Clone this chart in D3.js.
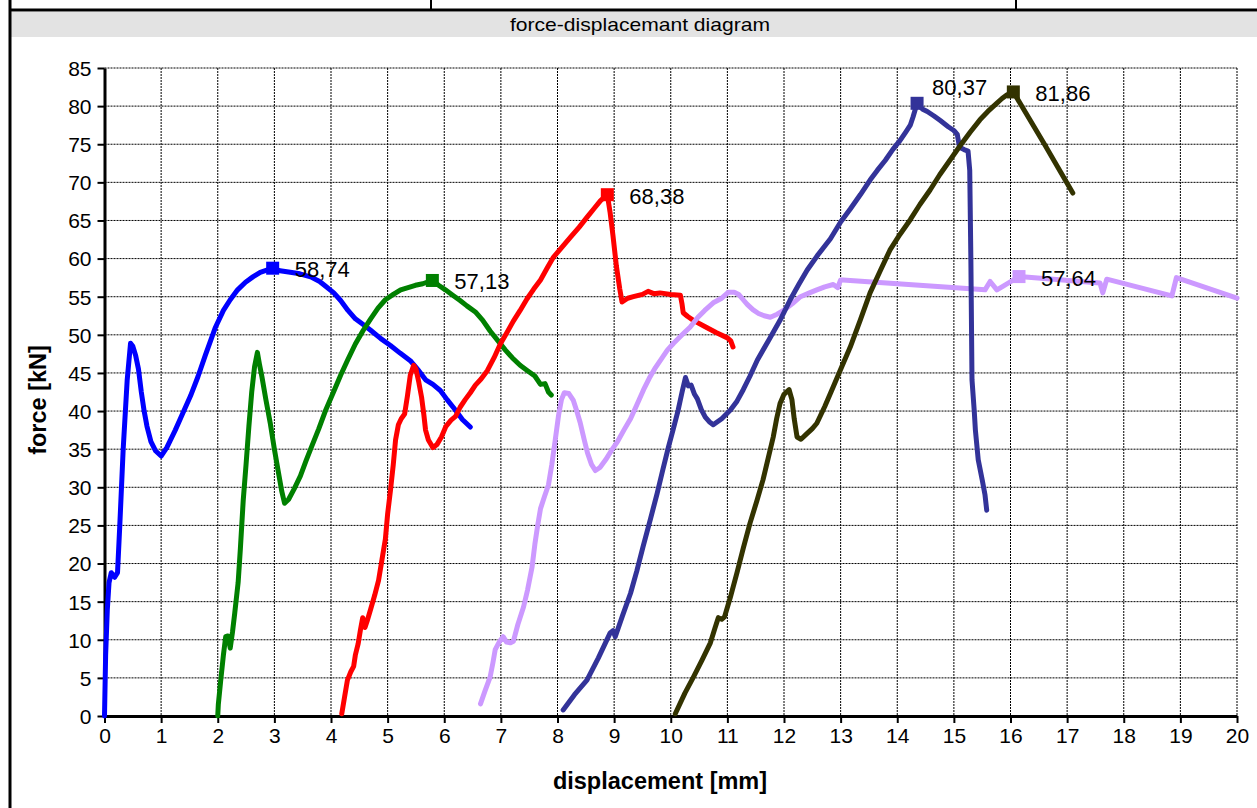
<!DOCTYPE html>
<html>
<head>
<meta charset="utf-8">
<script src="https://cdn.jsdelivr.net/npm/d3@7"></script>
<style>
  html, body { margin: 0; padding: 0; background: #fff; }
  svg { display: block; font-family: "Liberation Sans", Arial, sans-serif; }
</style>
</head>
<body>
<svg id="chart" width="1257" height="808"></svg>
<script>
// Axis ticks
const xTicks = d3.range(0, 21, 1);
const yTicks = d3.range(0, 86, 5);

// Force–displacement curves, [displacement mm, force kN]
const specimen1 = [[0,0],[0.02,8],[0.05,14],[0.08,17.5],[0.12,18.8],[0.18,18.2],[0.23,18.8],[0.27,25],[0.33,35],[0.4,44],[0.46,48.9],[0.5,48.5],[0.55,47.3],[0.6,45.5],[0.65,42.5],[0.7,40],[0.75,38],[0.82,36],[0.9,34.8],[1.0,34.1],[1.1,35.2],[1.25,37.5],[1.4,40],[1.52,42],[1.65,44.5],[1.78,47.3],[1.96,51],[2.1,53.2],[2.22,54.6],[2.35,55.9],[2.49,56.9],[2.62,57.6],[2.75,58.2],[2.97,58.74],[3.1,58.4],[3.28,58.2],[3.45,58],[3.64,57.6],[3.8,57],[3.9,56.4],[4.05,55.5],[4.17,54.5],[4.3,53.2],[4.43,52.1],[4.58,51.3],[4.7,50.6],[4.88,49.5],[5.05,48.6],[5.22,47.6],[5.4,46.6],[5.55,45.3],[5.67,44.1],[5.8,43.5],[5.93,42.7],[6.05,41.5],[6.2,40.1],[6.32,38.9],[6.46,37.9]];

const specimen2 = [[2.0,0],[2.01,1.5],[2.05,4.5],[2.1,8],[2.14,10.4],[2.18,10.5],[2.22,8.9],[2.26,11],[2.3,13.5],[2.36,17.5],[2.4,22],[2.45,28.3],[2.5,33],[2.55,38],[2.6,42.5],[2.65,45.8],[2.7,47.7],[2.74,46],[2.78,44.5],[2.85,41.5],[2.93,38.3],[3.0,35],[3.07,32],[3.13,29.5],[3.18,27.9],[3.25,28.4],[3.35,29.8],[3.46,31.5],[3.56,33.5],[3.64,35],[3.78,37.6],[3.9,40],[4.05,42.6],[4.17,44.7],[4.3,46.8],[4.43,48.8],[4.57,50.6],[4.7,52.1],[4.83,53.5],[4.96,54.6],[5.1,55.3],[5.23,55.9],[5.36,56.2],[5.49,56.5],[5.62,56.7],[5.79,57.13],[5.9,56.5],[6.02,55.9],[6.15,55.2],[6.28,54.5],[6.4,53.8],[6.55,53],[6.68,51.9],[6.81,50.5],[6.95,49.2],[7.08,48],[7.2,47],[7.34,46],[7.47,45.3],[7.6,44.6],[7.7,43.5],[7.78,43.6],[7.84,42.5],[7.89,42.1]];

const specimen3 = [[4.19,0.3],[4.24,2.5],[4.29,4.7],[4.35,5.8],[4.4,6.5],[4.43,8],[4.48,9.5],[4.52,11.3],[4.56,12.9],[4.6,11.6],[4.64,12.5],[4.7,14],[4.77,15.8],[4.84,17.8],[4.9,20.5],[4.96,23.2],[5.0,26.5],[5.05,29.6],[5.1,33],[5.14,36.2],[5.19,38.2],[5.24,39],[5.3,39.6],[5.35,42],[5.4,44.7],[5.46,46],[5.5,45.5],[5.55,43.8],[5.6,41.8],[5.64,39.5],[5.67,37.5],[5.72,36.2],[5.8,35.2],[5.87,35.6],[5.95,36.6],[6.03,38],[6.12,38.8],[6.2,39.3],[6.28,40.5],[6.37,41.5],[6.46,42.4],[6.55,43.4],[6.65,44.2],[6.76,45.3],[6.88,47],[6.99,48.8],[7.1,50.2],[7.22,51.8],[7.34,53.2],[7.46,54.7],[7.58,56],[7.7,57.2],[7.82,58.8],[7.93,60.2],[8.08,61.5],[8.23,62.8],[8.38,64.1],[8.53,65.5],[8.65,66.6],[8.76,67.6],[8.88,68.38],[8.93,66],[8.98,63],[9.04,59],[9.1,56],[9.14,54.3],[9.24,54.8],[9.34,55],[9.5,55.3],[9.6,55.7],[9.7,55.4],[9.81,55.5],[10.0,55.3],[10.17,55.2],[10.2,54],[10.22,52.9],[10.3,52.4],[10.4,51.9],[10.6,51.1],[10.8,50.3],[11.0,49.6],[11.06,49.2],[11.1,48.4]];

const specimen4 = [[6.64,1.6],[6.72,3.3],[6.81,5.1],[6.86,7],[6.9,8.7],[6.97,9.7],[7.04,10.4],[7.1,9.7],[7.17,9.6],[7.22,9.8],[7.3,12],[7.4,14.3],[7.47,16.5],[7.55,19.5],[7.6,22.5],[7.65,25],[7.7,27.2],[7.77,28.8],[7.84,30.3],[7.9,33],[7.96,36.2],[8.02,39.5],[8.07,41.5],[8.12,42.4],[8.2,42.3],[8.28,41.4],[8.34,40],[8.4,38.5],[8.47,36.3],[8.53,34.5],[8.6,33],[8.67,32.2],[8.75,32.6],[8.85,33.6],[8.95,34.8],[9.06,36],[9.18,37.6],[9.29,39],[9.4,40.8],[9.52,42.8],[9.62,44.3],[9.73,45.7],[9.85,47],[9.94,48],[10.05,48.9],[10.2,50],[10.34,51],[10.48,52.3],[10.6,53.2],[10.75,54.2],[10.9,54.8],[11.02,55.6],[11.12,55.6],[11.2,55.3],[11.28,54.6],[11.35,54],[11.45,53.3],[11.55,52.8],[11.65,52.5],[11.76,52.3],[11.88,52.7],[11.99,53.2],[12.15,54.1],[12.29,55],[12.45,55.5],[12.58,55.9],[12.72,56.3],[12.87,56.6],[12.95,56.2],[13.0,57.2],[13.04,57.2],[15.55,55.9],[15.64,57.0],[15.76,55.9],[15.85,56.3],[16.15,57.64],[17.58,56.8],[17.63,55.5],[17.7,57.3],[18.85,55.1],[18.93,57.5],[20,54.8]];

const specimen5 = [[8.1,0.8],[8.3,2.8],[8.52,4.7],[8.72,7.6],[8.93,10.9],[8.98,11.2],[9.02,10.4],[9.15,13.2],[9.29,16.1],[9.4,19],[9.51,22.2],[9.64,25.8],[9.76,29.2],[9.86,32.3],[9.96,35.3],[10.05,37.8],[10.13,40.1],[10.2,42.5],[10.26,44.4],[10.31,43.3],[10.36,43.4],[10.42,42.2],[10.47,41.6],[10.54,40.2],[10.61,39.2],[10.68,38.6],[10.75,38.2],[10.9,39],[11.05,40.1],[11.17,41.3],[11.28,42.8],[11.4,44.6],[11.53,46.7],[11.73,49.3],[11.93,51.9],[12.11,54.6],[12.26,56.6],[12.41,58.5],[12.6,60.5],[12.82,62.6],[13.0,64.8],[13.17,66.5],[13.35,68.4],[13.52,70.3],[13.65,71.6],[13.79,72.9],[13.92,74.3],[14.05,75.5],[14.15,76.6],[14.23,77.5],[14.28,78.6],[14.35,80.37],[14.45,79.6],[14.53,79.3],[14.65,78.7],[14.76,78.1],[14.9,77.3],[15.0,76.8],[15.06,76.3],[15.1,74.6],[15.18,74.3],[15.25,74.1],[15.28,71.6],[15.3,60],[15.32,44.1],[15.36,40],[15.38,37.5],[15.43,33.6],[15.5,31],[15.55,29],[15.58,27]];

const specimen6 = [[10.08,0.3],[10.25,3],[10.4,5.1],[10.55,7.3],[10.7,9.6],[10.78,11.5],[10.84,12.9],[10.9,12.7],[10.95,13],[11.05,15.5],[11.17,18.8],[11.28,22],[11.4,25.3],[11.52,28.2],[11.63,31],[11.72,33.8],[11.81,36.6],[11.87,39],[11.93,41],[12.0,42.2],[12.09,42.8],[12.14,41.5],[12.18,39],[12.23,36.6],[12.3,36.3],[12.4,37],[12.5,37.7],[12.58,38.4],[12.72,40.6],[12.87,43.2],[13.02,45.8],[13.17,48.4],[13.35,52],[13.52,55.5],[13.7,58.4],[13.87,61.1],[14.05,63.2],[14.23,65.1],[14.4,67.1],[14.58,69],[14.75,71],[14.93,72.9],[15.1,74.7],[15.29,76.6],[15.46,78.2],[15.6,79.3],[15.76,80.4],[15.85,81],[15.94,81.5],[16.05,81.86],[16.6,75],[17.1,68.6]];

const curves = [specimen1, specimen2, specimen3, specimen4, specimen5, specimen6];
const colors = ["#0000ff", "#008000", "#ff0000", "#cc99ff", "#333399", "#333300"];

// Maximum force per specimen
const peakDisp  = [2.97, 5.79, 8.88, 16.15, 14.35, 16.05];
const peakForce = [58.74, 57.13, 68.38, 57.64, 80.37, 81.86];

const svg = d3.select("#chart");
const W = 1257, H = 808;
const FONT = "'Liberation Sans', Arial, sans-serif";

// Sheet frame and title strip
svg.append("rect").attr("x", 11).attr("y", 12).attr("width", W - 11).attr("height", 25).attr("fill", "#e3e3e3");
svg.append("line").attr("x1", 10).attr("x2", W).attr("y1", 10).attr("y2", 10).attr("stroke", "#000").attr("stroke-width", 3);
svg.append("line").attr("x1", 10).attr("x2", 10).attr("y1", 0).attr("y2", H).attr("stroke", "#000").attr("stroke-width", 3);
[431, 1016].forEach(px => {
  svg.append("line").attr("x1", px).attr("x2", px).attr("y1", 0).attr("y2", 10).attr("stroke", "#000").attr("stroke-width", 2);
});
svg.append("text").attr("x", 640).attr("y", 31).attr("text-anchor", "middle")
  .attr("font-size", 19).attr("fill", "#000")
  .attr("textLength", 260).attr("lengthAdjust", "spacingAndGlyphs")
  .text("force-displacemant diagram");

// Scales
const x = d3.scaleLinear().domain([0, 20]).range([104.5, 1237]);
const y = d3.scaleLinear().domain([0, 85]).range([716, 68]);

// Grid
const grid = svg.append("g").attr("stroke", "#000").attr("stroke-width", 1).attr("stroke-dasharray", "2,1");
grid.selectAll("line.v").data(xTicks.slice(1)).join("line")
  .attr("x1", d => x(d)).attr("x2", d => x(d)).attr("y1", y(85)).attr("y2", y(0));
grid.selectAll("line.h").data(yTicks.slice(1)).join("line")
  .attr("x1", x(0)).attr("x2", x(20)).attr("y1", d => y(d)).attr("y2", d => y(d));

// Axes
const xAxis = svg.append("g").attr("transform", `translate(0,${y(0)})`)
  .call(d3.axisBottom(x).tickValues(xTicks).tickSize(7).tickSizeOuter(0).tickPadding(6));
const yAxis = svg.append("g").attr("transform", `translate(${x(0)},0)`)
  .call(d3.axisLeft(y).tickValues(yTicks).tickSize(7).tickSizeOuter(0).tickPadding(6));
[xAxis, yAxis].forEach(a => {
  a.attr("font-size", 21).attr("font-family", FONT);
  a.select(".domain").attr("stroke", "#000").attr("stroke-width", 3);
  a.selectAll(".tick line").attr("stroke", "#000").attr("stroke-width", 2);
  a.selectAll(".tick text").attr("fill", "#000");
});
yAxis.selectAll(".tick text").attr("dy", "0.35em");
xAxis.selectAll(".tick text").attr("dy", "0.68em");

// Axis titles
svg.append("text").attr("x", 660).attr("y", 789).attr("text-anchor", "middle")
  .attr("font-size", 23.5).attr("font-weight", "bold").text("displacement [mm]");
svg.append("text").attr("transform", "translate(46,400) rotate(-90)").attr("text-anchor", "middle")
  .attr("font-size", 23.5).attr("font-weight", "bold").text("force [kN]");

// Curves
const line = d3.line().x(d => x(d[0])).y(d => y(d[1]));
const plot = svg.append("g");
curves.forEach((c, i) => {
  plot.append("path").datum(c).attr("d", line).attr("fill", "none")
    .attr("stroke", colors[i]).attr("stroke-width", 5)
    .attr("stroke-linejoin", "round").attr("stroke-linecap", "round");
});

// Peak markers and labels
const fmt = v => v.toFixed(2).replace(".", ",");
peakForce.forEach((f, i) => {
  const px = x(peakDisp[i]), py = y(f);
  plot.append("rect").attr("x", px - 6.5).attr("y", py - 6.5).attr("width", 13).attr("height", 13)
    .attr("fill", colors[i]);
  // the 80,37 label sits above the crossing curve
  const raised = i === 4;
  plot.append("text").attr("x", px + (raised ? 15 : 22)).attr("y", py + (raised ? -8 : 9))
    .attr("font-size", 22).attr("fill", "#000").text(fmt(f));
});
</script>
</body>
</html>
